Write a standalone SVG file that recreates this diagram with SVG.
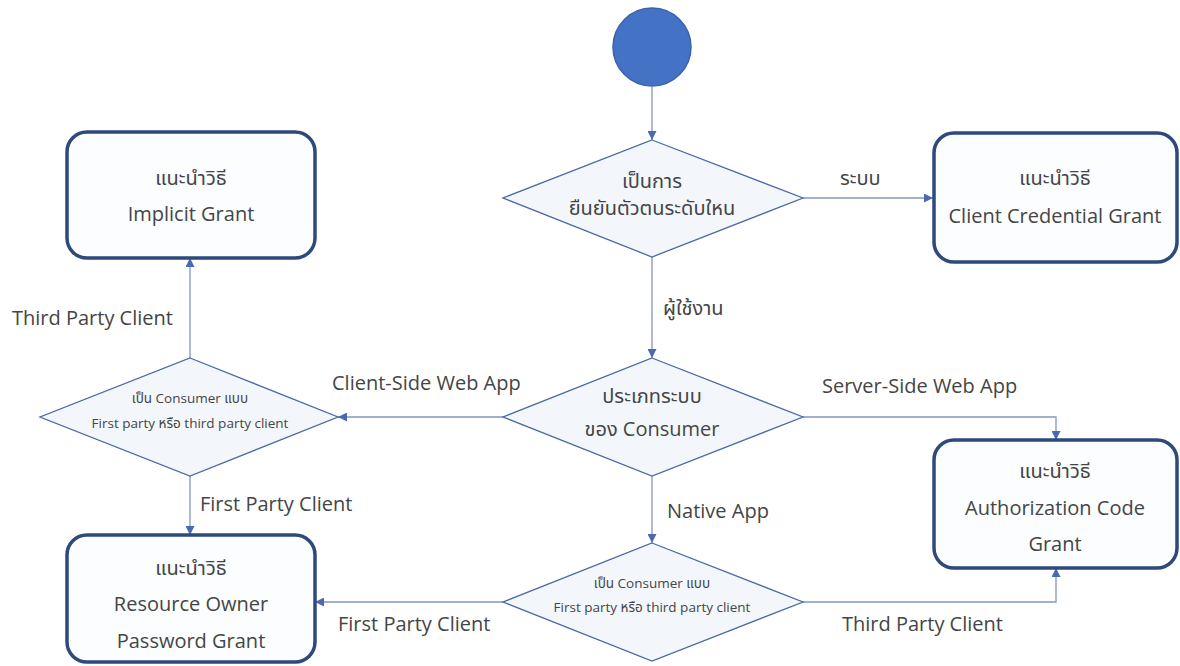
<svg xmlns="http://www.w3.org/2000/svg" width="1180" height="666" viewBox="0 0 1180 666">
  <defs>
    <marker id="arrow" viewBox="0 0 10 10" refX="10" refY="5" markerWidth="9" markerHeight="9" markerUnits="userSpaceOnUse" orient="auto">
      <path d="M0,0 L10,5 L0,10 z" fill="#4a6aae"/>
    </marker>
    <style>
      .box { fill: #fbfdff; stroke: #2e4a7d; stroke-width: 3.5; }
      .dia { fill: #f3f7fc; stroke: #4a6aa5; stroke-width: 1.3; }
      .edge { fill: none; stroke: #8296c2; stroke-width: 1.3; marker-end: url(#arrow); }
      .t { font-family: "Open Sans", "Noto Sans", "Noto Sans Thai", "DejaVu Sans", sans-serif; fill: #454545; text-anchor: middle; dominant-baseline: central; }
      .big { font-size: 20px; }
      .small { font-size: 13.5px; }
      .lbl { font-family: "Open Sans", "Noto Sans", "Noto Sans Thai", "DejaVu Sans", sans-serif; fill: #454545; font-size: 20px; dominant-baseline: central; }
    </style>
  </defs>

  <!-- connectors -->
  <g id="connectors">
    <path class="edge" d="M652,87 L652,140"/>
    <path class="edge" d="M803,198 L933,198"/>
    <path class="edge" d="M652,257 L652,358"/>
    <path class="edge" d="M503,417 L338,417"/>
    <path class="edge" d="M803,417 L1056,417 L1056,440"/>
    <path class="edge" d="M652,476 L652,543"/>
    <path class="edge" d="M190,358 L190,258"/>
    <path class="edge" d="M190,476 L190,535"/>
    <path class="edge" d="M503,602 L315,602"/>
    <path class="edge" d="M803,602 L1056,602 L1056,568"/>

    <text class="lbl" x="840" y="177">ระบบ</text>
    <text class="lbl" x="663" y="307">ผู้ใช้งาน</text>
    <text class="lbl" x="332" y="382">Client-Side Web App</text>
    <text class="lbl" x="822" y="385">Server-Side Web App</text>
    <text class="lbl" x="667" y="510">Native App</text>
    <text class="lbl" x="12" y="317">Third Party Client</text>
    <text class="lbl" x="200" y="503">First Party Client</text>
    <text class="lbl" x="338" y="623">First Party Client</text>
    <text class="lbl" x="842" y="623">Third Party Client</text>
  </g>

  <!-- start -->
  <g id="start">
    <circle cx="652" cy="47" r="39" fill="#4472c4" stroke="#3a63ad" stroke-width="1.5"/>
  </g>

  <!-- decisions -->
  <g id="auth-level">
    <polygon class="dia" points="652,140 803,198 652,257 503,198"/>
    <text class="t big" x="652" y="180">เป็นการ</text>
    <text class="t big" x="652" y="207">ยืนยันตัวตนระดับใหน</text>
  </g>

  <g id="consumer-type">
    <polygon class="dia" points="652,358 803,417 652,476 503,417"/>
    <text class="t big" x="652" y="395">ประเภทระบบ</text>
    <text class="t big" x="652" y="428">ของ Consumer</text>
  </g>

  <g id="party-web">
    <polygon class="dia" points="190,358 338,417 190,476 40,417"/>
    <text class="t small" x="190" y="398">เป็น Consumer แบบ</text>
    <text class="t small" x="190" y="423">First party หรือ third party client</text>
  </g>

  <g id="party-native">
    <polygon class="dia" points="652,543 803,602 652,661 503,602"/>
    <text class="t small" x="652" y="583">เป็น Consumer แบบ</text>
    <text class="t small" x="652" y="607">First party หรือ third party client</text>
  </g>

  <!-- recommendations -->
  <g id="implicit">
    <rect class="box" x="67" y="132" width="248" height="126" rx="20"/>
    <text class="t big" x="191" y="177">แนะนำวิธี</text>
    <text class="t big" x="191" y="213">Implicit Grant</text>
  </g>

  <g id="client-credential">
    <rect class="box" x="934" y="133" width="243" height="129" rx="20"/>
    <text class="t big" x="1055" y="177">แนะนำวิธี</text>
    <text class="t big" x="1055" y="215">Client Credential Grant</text>
  </g>

  <g id="authorization-code">
    <rect class="box" x="934" y="440" width="243" height="128" rx="20"/>
    <text class="t big" x="1055" y="470">แนะนำวิธี</text>
    <text class="t big" x="1055" y="507">Authorization Code</text>
    <text class="t big" x="1055" y="543">Grant</text>
  </g>

  <g id="resource-owner">
    <rect class="box" x="67" y="535" width="248" height="127" rx="20"/>
    <text class="t big" x="191" y="567">แนะนำวิธี</text>
    <text class="t big" x="191" y="603">Resource Owner</text>
    <text class="t big" x="191" y="640">Password Grant</text>
  </g>
</svg>
